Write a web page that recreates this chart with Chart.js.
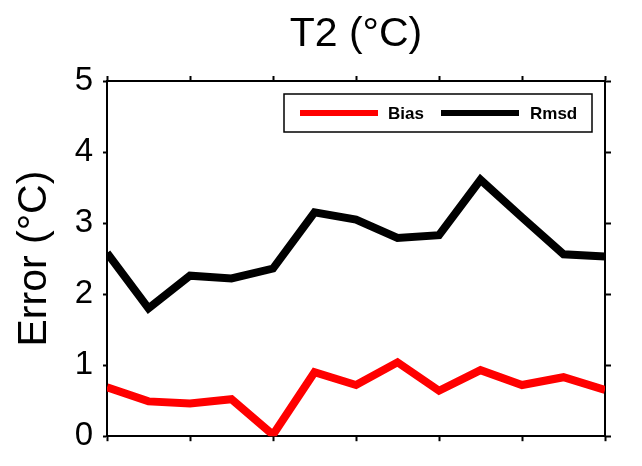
<!DOCTYPE html>
<html>
<head>
<meta charset="utf-8">
<script src="https://cdn.jsdelivr.net/npm/chart.js@4.4.1/dist/chart.umd.min.js"></script>
<style>
  html, body { margin: 0; padding: 0; background: #fff; }
  #wrap { width: 642px; height: 466px; }
</style>
</head>
<body>
<div id="wrap"><canvas id="t2Chart" width="642" height="466"></canvas></div>
<script>
// time steps along the x axis (ticks every second step)
const steps = ['0', '1', '2', '3', '4', '5', '6', '7', '8', '9', '10', '11', '12'];
const biasValues = [0.69, 0.49, 0.46, 0.52, 0.02, 0.90, 0.72, 1.04, 0.64, 0.93, 0.72, 0.83, 0.65];
const rmsdValues = [2.58, 1.80, 2.26, 2.22, 2.36, 3.15, 3.05, 2.79, 2.83, 3.61, 3.08, 2.56, 2.53];
const yTicks = [0, 1, 2, 3, 4, 5];

const REGULAR = "'Liberation Sans', Arial, sans-serif";

// legend box drawn inside the plot, upper right
const boxLegend = {
  id: 'boxLegend',
  afterDatasetsDraw(chart) {
    const ctx = chart.ctx;
    const sets = chart.data.datasets;
    ctx.save();
    ctx.fillStyle = '#fff';
    ctx.fillRect(284, 94, 308, 38);
    ctx.strokeStyle = '#000';
    ctx.lineWidth = 1.5;
    ctx.strokeRect(284, 94, 308, 38);
    const items = [{ x: 300, tx: 388 }, { x: 441, tx: 530 }];
    ctx.font = 'bold 17px ' + REGULAR;
    ctx.textBaseline = 'middle';
    items.forEach((it, i) => {
      ctx.strokeStyle = sets[i].borderColor;
      ctx.lineWidth = 6;
      ctx.beginPath();
      ctx.moveTo(it.x, 113);
      ctx.lineTo(it.x + 78, 113);
      ctx.stroke();
      ctx.fillStyle = '#000';
      ctx.fillText(sets[i].label, it.tx, 114);
    });
    ctx.restore();
  }
};

const tickEveryOther = (c) => (c.index % 2 === 0 ? '#000' : 'rgba(0,0,0,0)');

const xAxis = (position, height) => ({
  type: 'category',
  position: position,
  offset: false,
  grid: { drawOnChartArea: false, drawTicks: true, tickLength: 5, tickWidth: 2, tickColor: tickEveryOther },
  border: { display: true, color: '#000', width: 2 },
  ticks: { display: false, autoSkip: false },
  afterFit: (scale) => { scale.height = height; }
});

new Chart(document.getElementById('t2Chart').getContext('2d'), {
  type: 'line',
  data: {
    labels: steps,
    datasets: [
      { label: 'Bias', data: biasValues, borderColor: '#ff0000', borderWidth: 8,
        pointRadius: 0, borderJoinStyle: 'miter', tension: 0, clip: 0 },
      { label: 'Rmsd', data: rmsdValues, borderColor: '#000000', borderWidth: 8,
        pointRadius: 0, borderJoinStyle: 'miter', tension: 0, clip: 0 }
    ]
  },
  options: {
    responsive: false,
    animation: false,
    layout: { padding: 0 },
    plugins: {
      legend: { display: false },
      tooltip: { enabled: false },
      title: {
        display: true,
        fullSize: false,
        text: 'T2 (°C)',
        color: '#000',
        font: { size: 41, family: REGULAR, weight: 'normal', lineHeight: 1.2 },
        padding: { top: 10, bottom: 0 }
      }
    },
    scales: {
      x: xAxis('bottom', 16),
      x2: xAxis('top', 81 - 10 - 41 * 1.2),
      y: {
        min: 0, max: 5,
        afterBuildTicks: (scale) => { scale.ticks = yTicks.map(v => ({ value: v })); },
        grid: { drawOnChartArea: false, tickLength: 4, tickWidth: 2, tickColor: '#000' },
        border: { display: true, color: '#000', width: 2 },
        ticks: { color: '#000', padding: 10, font: { size: 33, family: REGULAR } },
        title: {
          display: true, text: 'Error (°C)', color: '#000',
          font: { size: 41, family: REGULAR, weight: 'normal', lineHeight: 1.2 },
          padding: { top: 10, bottom: 0 }
        },
        afterFit: (scale) => { scale.width = 107; }
      },
      y2: {
        position: 'right',
        min: 0, max: 5,
        afterBuildTicks: (scale) => { scale.ticks = yTicks.map(v => ({ value: v })); },
        grid: { drawOnChartArea: false, tickLength: 6, tickWidth: 2, tickColor: '#000' },
        border: { display: true, color: '#000', width: 2 },
        ticks: { display: false },
        afterFit: (scale) => { scale.width = 37; }
      }
    }
  },
  plugins: [boxLegend]
});
</script>
</body>
</html>
